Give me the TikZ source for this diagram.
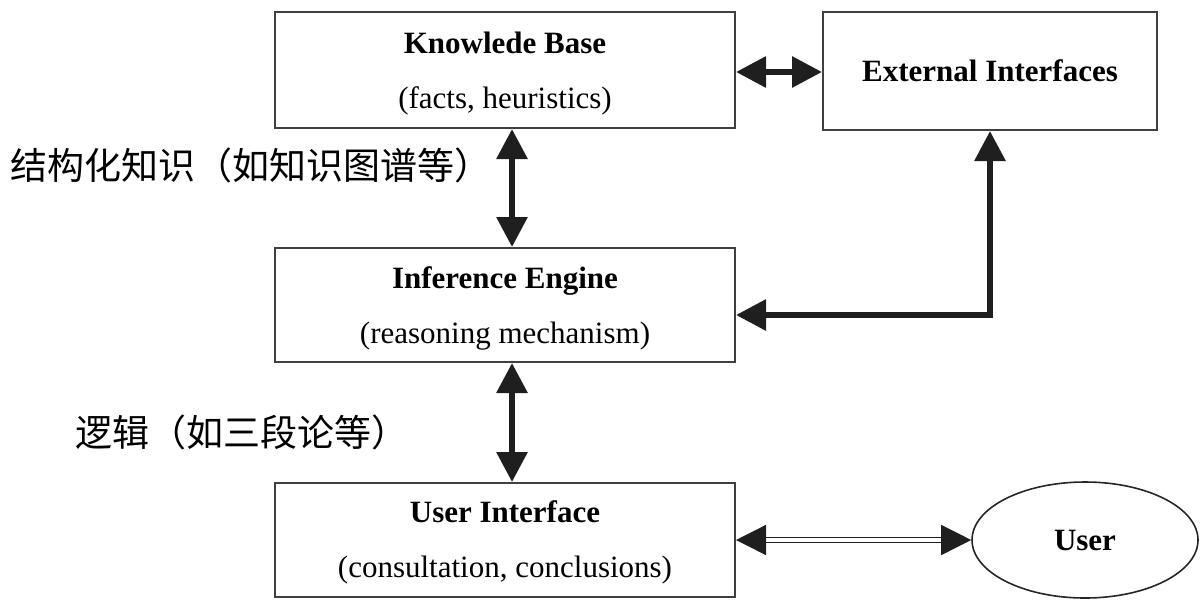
\documentclass[tikz,border=0pt]{standalone}
\usepackage{fontspec}
\setmainfont{Liberation Serif}
\newfontfamily\cjk{Noto Sans CJK SC}
\usetikzlibrary{arrows.meta,shapes.geometric,calc}
\tikzset{
  box/.style={draw=black!75, line width=1pt, rectangle, inner sep=0pt},
  boxtext/.style={inner sep=0pt, align=center, font=\fontsize{15.5pt}{17pt}\selectfont},
  thick arrow/.style={line width=3pt, color=black!88, {Triangle[length=15pt,width=15pt]}-{Triangle[length=15pt,width=15pt]}},
  cjklabel/.style={font=\cjk\fontsize{18.5pt}{20pt}\selectfont, anchor=west, inner sep=0pt}
}
\begin{document}
\begin{tikzpicture}[x=0.5pt,y=-0.5pt]
\useasboundingbox (0,0) rectangle (1203,600);
\node[box, minimum width=230pt, minimum height=58pt] (kb) at (505,70) {};
\node[boxtext] (kbt) at (505,73.5) {\textbf{Knowlede Base}\\[10.5pt](facts, heuristics)};
\node[box, minimum width=167pt, minimum height=59pt] (ei) at (990,71) {};
\node[boxtext] (eit) at (990,71) {\textbf{External Interfaces}};
\node[box, minimum width=230pt, minimum height=57pt] (ie) at (505,305) {};
\node[boxtext] (iet) at (505,308) {\textbf{Inference Engine}\\[10.5pt](reasoning mechanism)};
\node[box, minimum width=230pt, minimum height=57pt] (ui) at (505,540) {};
\node[boxtext] (uit) at (505,542) {\textbf{User Interface}\\[10.5pt](consultation, conclusions)};
\node[draw=black!85, line width=0.8pt, ellipse, inner sep=0pt, minimum width=113pt, minimum height=58pt,
  font=\fontsize{15.5pt}{17pt}\selectfont] (user) at (1085,540) {\textbf{User}};

\draw[thick arrow] (kb.east |- 0,72) -- (ei.west |- 0,72);
\draw[thick arrow] (kb.south -| 512,0) -- (ie.north -| 512,0);
\draw[thick arrow] (ie.south -| 512,0) -- (ui.north -| 512,0);
\draw[thick arrow] (ei.south) -- (ei.south |- 0,315) -- (ie.east |- 0,315);
\draw[line width=0.7pt, double=white, double distance=2pt, color=black!88,
  {Triangle[length=15pt,width=15pt]}-{Triangle[length=15pt,width=15pt]}] (ui.east) -- (user.west);

\node[cjklabel] (l1) at (10,165) {结构化知识（如知识图谱等）};
\node[cjklabel] (l2) at (75,432) {逻辑（如三段论等）};
\end{tikzpicture}
\end{document}
